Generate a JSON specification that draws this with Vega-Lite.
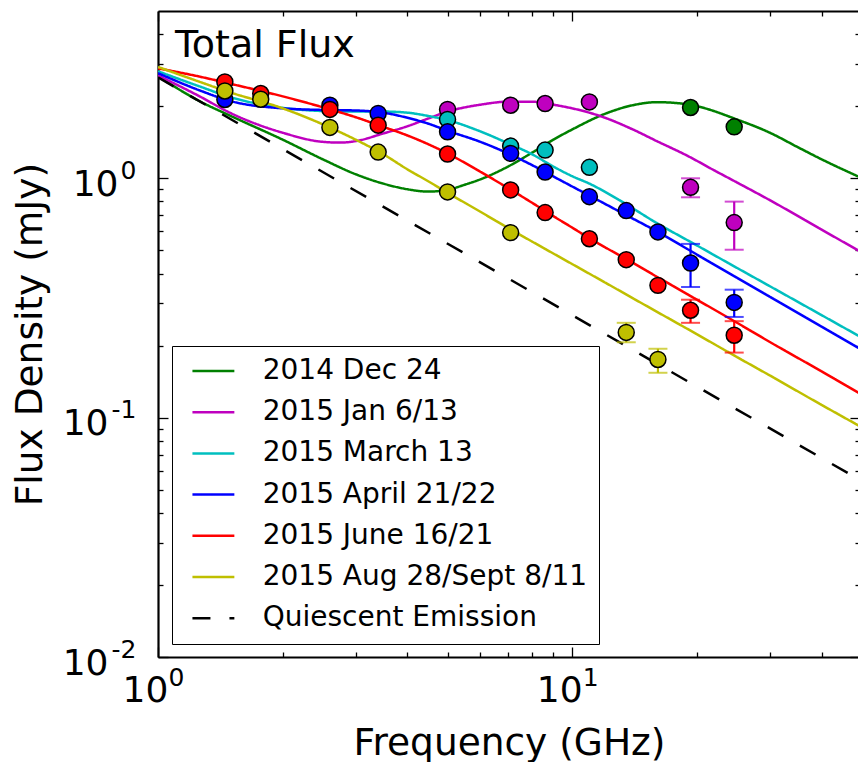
{
  "$schema": "https://vega.github.io/schema/vega-lite/v6.json",
  "width": 702,
  "height": 646,
  "autosize": {"type": "none"},
  "padding": {"left": 158, "top": 11, "right": 0, "bottom": 105},
  "background": "white",
  "title": {"text": "Total Flux", "anchor": "start", "frame": "group", "offset": 0, "dx": 17, "dy": 85, "baseline": "alphabetic", "fontSize": 38, "fontWeight": "normal", "font": "DejaVu Sans", "color": "black"},
  "datasets": {
    "curves": [
      {"series": "2014 Dec 24", "f": 1, "s": 2.67}, {"series": "2014 Dec 24", "f": 1.26, "s": 2.1}, {"series": "2014 Dec 24", "f": 1.5, "s": 1.82}, {"series": "2014 Dec 24", "f": 2, "s": 1.45}, {"series": "2014 Dec 24", "f": 2.5, "s": 1.2}, {"series": "2014 Dec 24", "f": 3, "s": 1.04}, {"series": "2014 Dec 24", "f": 3.5, "s": 0.95}, {"series": "2014 Dec 24", "f": 4, "s": 0.9}, {"series": "2014 Dec 24", "f": 4.5, "s": 0.88}, {"series": "2014 Dec 24", "f": 5, "s": 0.895}, {"series": "2014 Dec 24", "f": 5.5, "s": 0.94}, {"series": "2014 Dec 24", "f": 6, "s": 0.99}, {"series": "2014 Dec 24", "f": 7, "s": 1.12}, {"series": "2014 Dec 24", "f": 8, "s": 1.28}, {"series": "2014 Dec 24", "f": 9, "s": 1.45}, {"series": "2014 Dec 24", "f": 10, "s": 1.6}, {"series": "2014 Dec 24", "f": 12, "s": 1.86}, {"series": "2014 Dec 24", "f": 14, "s": 2.02}, {"series": "2014 Dec 24", "f": 16, "s": 2.08}, {"series": "2014 Dec 24", "f": 18, "s": 2.06}, {"series": "2014 Dec 24", "f": 20, "s": 2.0}, {"series": "2014 Dec 24", "f": 25, "s": 1.76}, {"series": "2014 Dec 24", "f": 30, "s": 1.55}, {"series": "2014 Dec 24", "f": 35, "s": 1.35}, {"series": "2014 Dec 24", "f": 40, "s": 1.2}, {"series": "2014 Dec 24", "f": 49.5, "s": 1.01},
      {"series": "2015 Jan 6/13", "f": 1, "s": 2.69}, {"series": "2015 Jan 6/13", "f": 1.26, "s": 2.2}, {"series": "2015 Jan 6/13", "f": 1.5, "s": 1.87}, {"series": "2015 Jan 6/13", "f": 2, "s": 1.55}, {"series": "2015 Jan 6/13", "f": 2.5, "s": 1.42}, {"series": "2015 Jan 6/13", "f": 2.75, "s": 1.41}, {"series": "2015 Jan 6/13", "f": 3, "s": 1.43}, {"series": "2015 Jan 6/13", "f": 3.5, "s": 1.54}, {"series": "2015 Jan 6/13", "f": 4, "s": 1.65}, {"series": "2015 Jan 6/13", "f": 4.5, "s": 1.78}, {"series": "2015 Jan 6/13", "f": 5, "s": 1.9}, {"series": "2015 Jan 6/13", "f": 6, "s": 2.03}, {"series": "2015 Jan 6/13", "f": 7, "s": 2.09}, {"series": "2015 Jan 6/13", "f": 8, "s": 2.09}, {"series": "2015 Jan 6/13", "f": 9, "s": 2.03}, {"series": "2015 Jan 6/13", "f": 10, "s": 1.96}, {"series": "2015 Jan 6/13", "f": 11, "s": 1.88}, {"series": "2015 Jan 6/13", "f": 12, "s": 1.79}, {"series": "2015 Jan 6/13", "f": 14, "s": 1.6}, {"series": "2015 Jan 6/13", "f": 16, "s": 1.43}, {"series": "2015 Jan 6/13", "f": 19, "s": 1.24}, {"series": "2015 Jan 6/13", "f": 22, "s": 1.08}, {"series": "2015 Jan 6/13", "f": 25, "s": 0.96}, {"series": "2015 Jan 6/13", "f": 30, "s": 0.81}, {"series": "2015 Jan 6/13", "f": 40, "s": 0.61}, {"series": "2015 Jan 6/13", "f": 49.5, "s": 0.495},
      {"series": "2015 March 13", "f": 1, "s": 2.8}, {"series": "2015 March 13", "f": 1.26, "s": 2.42}, {"series": "2015 March 13", "f": 1.5, "s": 2.18}, {"series": "2015 March 13", "f": 2, "s": 1.97}, {"series": "2015 March 13", "f": 2.5, "s": 1.91}, {"series": "2015 March 13", "f": 3, "s": 1.9}, {"series": "2015 March 13", "f": 3.5, "s": 1.9}, {"series": "2015 March 13", "f": 4, "s": 1.88}, {"series": "2015 March 13", "f": 4.5, "s": 1.82}, {"series": "2015 March 13", "f": 5, "s": 1.75}, {"series": "2015 March 13", "f": 6, "s": 1.57}, {"series": "2015 March 13", "f": 7, "s": 1.4}, {"series": "2015 March 13", "f": 8, "s": 1.26}, {"series": "2015 March 13", "f": 9, "s": 1.12}, {"series": "2015 March 13", "f": 10, "s": 1.02}, {"series": "2015 March 13", "f": 11, "s": 0.95}, {"series": "2015 March 13", "f": 13, "s": 0.81}, {"series": "2015 March 13", "f": 16, "s": 0.65}, {"series": "2015 March 13", "f": 20, "s": 0.524}, {"series": "2015 March 13", "f": 25, "s": 0.422}, {"series": "2015 March 13", "f": 30, "s": 0.354}, {"series": "2015 March 13", "f": 40, "s": 0.268}, {"series": "2015 March 13", "f": 49.5, "s": 0.218},
      {"series": "2015 April 21/22", "f": 1, "s": 2.75}, {"series": "2015 April 21/22", "f": 1.26, "s": 2.33}, {"series": "2015 April 21/22", "f": 1.5, "s": 2.1}, {"series": "2015 April 21/22", "f": 2, "s": 1.96}, {"series": "2015 April 21/22", "f": 2.5, "s": 1.93}, {"series": "2015 April 21/22", "f": 3, "s": 1.92}, {"series": "2015 April 21/22", "f": 3.5, "s": 1.88}, {"series": "2015 April 21/22", "f": 4, "s": 1.79}, {"series": "2015 April 21/22", "f": 4.5, "s": 1.69}, {"series": "2015 April 21/22", "f": 5, "s": 1.58}, {"series": "2015 April 21/22", "f": 6, "s": 1.42}, {"series": "2015 April 21/22", "f": 7, "s": 1.27}, {"series": "2015 April 21/22", "f": 8, "s": 1.135}, {"series": "2015 April 21/22", "f": 9, "s": 1.018}, {"series": "2015 April 21/22", "f": 10, "s": 0.924}, {"series": "2015 April 21/22", "f": 11, "s": 0.847}, {"series": "2015 April 21/22", "f": 13, "s": 0.726}, {"series": "2015 April 21/22", "f": 16, "s": 0.6}, {"series": "2015 April 21/22", "f": 20, "s": 0.48}, {"series": "2015 April 21/22", "f": 25, "s": 0.384}, {"series": "2015 April 21/22", "f": 30, "s": 0.32}, {"series": "2015 April 21/22", "f": 40, "s": 0.24}, {"series": "2015 April 21/22", "f": 49.5, "s": 0.194},
      {"series": "2015 June 16/21", "f": 1, "s": 2.88}, {"series": "2015 June 16/21", "f": 1.26, "s": 2.66}, {"series": "2015 June 16/21", "f": 1.5, "s": 2.48}, {"series": "2015 June 16/21", "f": 2, "s": 2.2}, {"series": "2015 June 16/21", "f": 2.5, "s": 1.98}, {"series": "2015 June 16/21", "f": 3, "s": 1.8}, {"series": "2015 June 16/21", "f": 3.5, "s": 1.64}, {"series": "2015 June 16/21", "f": 4, "s": 1.51}, {"series": "2015 June 16/21", "f": 5, "s": 1.27}, {"series": "2015 June 16/21", "f": 6, "s": 1.065}, {"series": "2015 June 16/21", "f": 7, "s": 0.91}, {"series": "2015 June 16/21", "f": 8, "s": 0.79}, {"series": "2015 June 16/21", "f": 9, "s": 0.695}, {"series": "2015 June 16/21", "f": 10, "s": 0.622}, {"series": "2015 June 16/21", "f": 11, "s": 0.562}, {"series": "2015 June 16/21", "f": 12, "s": 0.515}, {"series": "2015 June 16/21", "f": 13.5, "s": 0.46}, {"series": "2015 June 16/21", "f": 16, "s": 0.388}, {"series": "2015 June 16/21", "f": 20, "s": 0.311}, {"series": "2015 June 16/21", "f": 25, "s": 0.249}, {"series": "2015 June 16/21", "f": 30, "s": 0.207}, {"series": "2015 June 16/21", "f": 40, "s": 0.156}, {"series": "2015 June 16/21", "f": 49.5, "s": 0.126},
      {"series": "2015 Aug 28/Sept 8/11", "f": 1, "s": 2.92}, {"series": "2015 Aug 28/Sept 8/11", "f": 1.26, "s": 2.53}, {"series": "2015 Aug 28/Sept 8/11", "f": 1.5, "s": 2.28}, {"series": "2015 Aug 28/Sept 8/11", "f": 2, "s": 1.96}, {"series": "2015 Aug 28/Sept 8/11", "f": 2.5, "s": 1.68}, {"series": "2015 Aug 28/Sept 8/11", "f": 3, "s": 1.45}, {"series": "2015 Aug 28/Sept 8/11", "f": 3.5, "s": 1.26}, {"series": "2015 Aug 28/Sept 8/11", "f": 4, "s": 1.09}, {"series": "2015 Aug 28/Sept 8/11", "f": 4.5, "s": 0.97}, {"series": "2015 Aug 28/Sept 8/11", "f": 5, "s": 0.87}, {"series": "2015 Aug 28/Sept 8/11", "f": 6, "s": 0.725}, {"series": "2015 Aug 28/Sept 8/11", "f": 7, "s": 0.62}, {"series": "2015 Aug 28/Sept 8/11", "f": 8, "s": 0.544}, {"series": "2015 Aug 28/Sept 8/11", "f": 10, "s": 0.438}, {"series": "2015 Aug 28/Sept 8/11", "f": 12, "s": 0.367}, {"series": "2015 Aug 28/Sept 8/11", "f": 15, "s": 0.295}, {"series": "2015 Aug 28/Sept 8/11", "f": 20, "s": 0.223}, {"series": "2015 Aug 28/Sept 8/11", "f": 25, "s": 0.179}, {"series": "2015 Aug 28/Sept 8/11", "f": 30, "s": 0.15}, {"series": "2015 Aug 28/Sept 8/11", "f": 40, "s": 0.113}, {"series": "2015 Aug 28/Sept 8/11", "f": 49.5, "s": 0.092},
      {"series": "Quiescent Emission", "f": 1, "s": 2.64}, {"series": "Quiescent Emission", "f": 10, "s": 0.268}, {"series": "Quiescent Emission", "f": 49.5, "s": 0.0549}
    ],
    "points": [
      {"series": "2014 Dec 24", "f": 19.3, "s": 1.976}, {"series": "2014 Dec 24", "f": 24.6, "s": 1.641},
      {"series": "2015 Jan 6/13", "f": 5.0, "s": 1.939}, {"series": "2015 Jan 6/13", "f": 7.1, "s": 2.02}, {"series": "2015 Jan 6/13", "f": 8.6, "s": 2.053}, {"series": "2015 Jan 6/13", "f": 11.0, "s": 2.085}, {"series": "2015 Jan 6/13", "f": 19.3, "s": 0.917, "lo": 0.833, "hi": 1.0}, {"series": "2015 Jan 6/13", "f": 24.6, "s": 0.653, "lo": 0.503, "hi": 0.799},
      {"series": "2015 March 13", "f": 5.0, "s": 1.762}, {"series": "2015 March 13", "f": 7.1, "s": 1.363}, {"series": "2015 March 13", "f": 8.6, "s": 1.312}, {"series": "2015 March 13", "f": 11.0, "s": 1.111},
      {"series": "2015 April 21/22", "f": 1.45, "s": 2.134}, {"series": "2015 April 21/22", "f": 2.6, "s": 2.02}, {"series": "2015 April 21/22", "f": 3.4, "s": 1.866}, {"series": "2015 April 21/22", "f": 5.0, "s": 1.564}, {"series": "2015 April 21/22", "f": 7.1, "s": 1.271}, {"series": "2015 April 21/22", "f": 8.6, "s": 1.062}, {"series": "2015 April 21/22", "f": 11.0, "s": 0.838}, {"series": "2015 April 21/22", "f": 13.5, "s": 0.733}, {"series": "2015 April 21/22", "f": 16.1, "s": 0.597}, {"series": "2015 April 21/22", "f": 19.3, "s": 0.4425, "lo": 0.3515, "hi": 0.532}, {"series": "2015 April 21/22", "f": 24.6, "s": 0.303, "lo": 0.2635, "hi": 0.3425},
      {"series": "2015 June 16/21", "f": 1.45, "s": 2.526}, {"series": "2015 June 16/21", "f": 1.77, "s": 2.26}, {"series": "2015 June 16/21", "f": 2.6, "s": 1.94}, {"series": "2015 June 16/21", "f": 3.4, "s": 1.667}, {"series": "2015 June 16/21", "f": 5.0, "s": 1.263}, {"series": "2015 June 16/21", "f": 7.1, "s": 0.894}, {"series": "2015 June 16/21", "f": 8.6, "s": 0.719}, {"series": "2015 June 16/21", "f": 11.0, "s": 0.559}, {"series": "2015 June 16/21", "f": 13.5, "s": 0.457}, {"series": "2015 June 16/21", "f": 16.1, "s": 0.357}, {"series": "2015 June 16/21", "f": 19.3, "s": 0.281, "lo": 0.249, "hi": 0.311}, {"series": "2015 June 16/21", "f": 24.6, "s": 0.221, "lo": 0.187, "hi": 0.253},
      {"series": "2015 Aug 28/Sept 8/11", "f": 1.45, "s": 2.317}, {"series": "2015 Aug 28/Sept 8/11", "f": 1.77, "s": 2.14}, {"series": "2015 Aug 28/Sept 8/11", "f": 2.6, "s": 1.631}, {"series": "2015 Aug 28/Sept 8/11", "f": 3.4, "s": 1.287}, {"series": "2015 Aug 28/Sept 8/11", "f": 5.0, "s": 0.877}, {"series": "2015 Aug 28/Sept 8/11", "f": 7.1, "s": 0.593}, {"series": "2015 Aug 28/Sept 8/11", "f": 13.5, "s": 0.227, "lo": 0.2065, "hi": 0.249}, {"series": "2015 Aug 28/Sept 8/11", "f": 16.1, "s": 0.175, "lo": 0.154, "hi": 0.194}
    ]
  },
  "layer": [
    {
      "data": {"name": "curves"},
      "mark": {"type": "line", "strokeWidth": 2.5, "clip": true, "interpolate": "monotone"},
      "encoding": {
        "x": {"field": "f", "type": "quantitative", "scale": {"type": "log", "domain": [1, 49.5], "nice": false},
          "axis": {"orient": "bottom", "values": [1, 10], "ticks": false, "tickSize": 0, "domain": false, "labelExpr": "'10'", "labelFontSize": 36, "labelOffset": -13, "labelPadding": 16, "labelFlush": false, "labelOverlap": false, "labelColor": "black", "labelFont": "DejaVu Sans", "title": "Frequency (GHz)", "titleFontSize": 37.5, "titleFont": "DejaVu Sans", "titleFontWeight": "normal", "titleColor": "black", "titleY": 67, "titleBaseline": "top"}},
        "y": {"field": "s", "type": "quantitative", "scale": {"type": "log", "domain": [0.01, 5], "nice": false},
          "axis": {"orient": "left", "values": [0.01, 0.1, 1], "ticks": false, "tickSize": 0, "domain": false, "labelExpr": "'10'", "labelFontSize": 36, "labelAlign": "right", "labelBaseline": "middle", "labelPadding": {"condition": {"test": "datum.value == 1", "value": 40}, "value": 50}, "labelOffset": 6, "labelOverlap": false, "labelFlush": false, "labelColor": "black", "labelFont": "DejaVu Sans", "title": "Flux Density (mJy)", "titleFontSize": 37.5, "titleFont": "DejaVu Sans", "titleFontWeight": "normal", "titleColor": "black", "titleX": -117, "titleY": 323, "titleAngle": 270, "titleAlign": "center", "titleBaseline": "alphabetic"}},
        "color": {"field": "series", "type": "nominal",
          "scale": {"domain": ["2014 Dec 24", "2015 Jan 6/13", "2015 March 13", "2015 April 21/22", "2015 June 16/21", "2015 Aug 28/Sept 8/11", "Quiescent Emission"], "range": ["#008000", "#bf00bf", "#00bfbf", "#0000ff", "#ff0000", "#bfbf00", "#000000"]},
          "legend": {"title": null, "orient": "none", "legendX": 14, "legendY": 335}},
        "strokeDash": {"field": "series", "type": "nominal",
          "scale": {"domain": ["2014 Dec 24", "2015 Jan 6/13", "2015 March 13", "2015 April 21/22", "2015 June 16/21", "2015 Aug 28/Sept 8/11", "Quiescent Emission"], "range": [[1, 0], [1, 0], [1, 0], [1, 0], [1, 0], [1, 0], [18, 19]]},
          "legend": {"title": null, "orient": "none", "legendX": 14, "legendY": 335}}
      }
    },
    {
      "data": {"name": "points"},
      "transform": [{"filter": "isValid(datum.lo)"}],
      "mark": {"type": "rule", "strokeWidth": 2.2},
      "encoding": {
        "x": {"field": "f", "type": "quantitative", "scale": {"type": "log", "domain": [1, 49.5], "nice": false},
          "axis": {"orient": "bottom", "values": [1, 10], "ticks": false, "tickSize": 0, "domain": false, "labelExpr": "datum.value == 1 ? '0' : '1'", "labelFontSize": 25, "labelOffset": 18, "labelPadding": 8, "labelFlush": false, "labelOverlap": false, "labelColor": "black", "labelFont": "DejaVu Sans", "title": null}},
        "y": {"field": "lo", "type": "quantitative", "scale": {"type": "log", "domain": [0.01, 5], "nice": false},
          "axis": {"orient": "left", "values": [0.01, 0.1, 1], "ticks": false, "tickSize": 0, "domain": false, "labelExpr": "datum.value == 1 ? '0' : datum.value == 0.1 ? '-1' : '-2'", "labelFontSize": 25, "labelAlign": "right", "labelBaseline": "middle", "labelPadding": 22, "labelOffset": -8, "labelOverlap": false, "labelFlush": false, "labelColor": "black", "labelFont": "DejaVu Sans", "title": null}},
        "y2": {"field": "hi"},
        "color": {"field": "series", "type": "nominal", "legend": null}
      }
    },
    {
      "data": {"name": "points"},
      "transform": [{"filter": "isValid(datum.lo)"}],
      "mark": {"type": "tick", "orient": "horizontal", "size": 19, "thickness": 2},
      "encoding": {
        "x": {"field": "f", "type": "quantitative", "scale": {"type": "log", "domain": [1, 49.5], "nice": false},
          "axis": {"orient": "bottom", "values": [1, 2, 3, 4, 5, 6, 7, 8, 9, 10, 20, 30, 40], "labels": false, "ticks": true, "tickSize": {"condition": {"test": "datum.value == 1 || datum.value == 10", "value": -10}, "value": -5}, "tickWidth": 1.3, "tickColor": "black", "domain": true, "domainColor": "black", "domainWidth": 2.2, "title": null}},
        "y": {"field": "lo", "type": "quantitative", "scale": {"type": "log", "domain": [0.01, 5], "nice": false},
          "axis": {"orient": "left", "values": [0.01, 0.02, 0.03, 0.04, 0.05, 0.06, 0.07, 0.08, 0.09, 0.1, 0.2, 0.3, 0.4, 0.5, 0.6, 0.7, 0.8, 0.9, 1, 2, 3, 4], "labels": false, "ticks": true, "tickSize": {"condition": {"test": "datum.value == 1 || datum.value == 0.1 || datum.value == 0.01", "value": -10}, "value": -5}, "tickWidth": 1.3, "tickColor": "black", "domain": true, "domainColor": "black", "domainWidth": 2.2, "title": null}},
        "color": {"field": "series", "type": "nominal", "legend": null}
      }
    },
    {
      "data": {"name": "points"},
      "transform": [{"filter": "isValid(datum.hi)"}],
      "mark": {"type": "tick", "orient": "horizontal", "size": 19, "thickness": 2},
      "encoding": {
        "x": {"field": "f", "type": "quantitative", "scale": {"type": "log", "domain": [1, 49.5], "nice": false}, "axis": null},
        "y": {"field": "hi", "type": "quantitative", "scale": {"type": "log", "domain": [0.01, 5], "nice": false}, "axis": null},
        "color": {"field": "series", "type": "nominal", "legend": null}
      }
    },
    {
      "data": {"name": "points"},
      "mark": {"type": "point", "filled": true, "shape": "circle", "size": 255, "stroke": "black", "strokeWidth": 1.5, "opacity": 1},
      "encoding": {
        "x": {"field": "f", "type": "quantitative", "scale": {"type": "log", "domain": [1, 49.5], "nice": false},
          "axis": {"orient": "top", "values": [1, 2, 3, 4, 5, 6, 7, 8, 9, 10, 20, 30, 40], "labels": false, "ticks": true, "tickSize": {"condition": {"test": "datum.value == 1 || datum.value == 10", "value": -10}, "value": -5}, "tickWidth": 1.3, "tickColor": "black", "domain": true, "domainColor": "black", "domainWidth": 2.2, "title": null}},
        "y": {"field": "s", "type": "quantitative", "scale": {"type": "log", "domain": [0.01, 5], "nice": false},
          "axis": {"orient": "right", "values": [0.01, 0.02, 0.03, 0.04, 0.05, 0.06, 0.07, 0.08, 0.09, 0.1, 0.2, 0.3, 0.4, 0.5, 0.6, 0.7, 0.8, 0.9, 1, 2, 3, 4], "labels": false, "ticks": true, "tickSize": {"condition": {"test": "datum.value == 1 || datum.value == 0.1 || datum.value == 0.01", "value": -10}, "value": -5}, "tickWidth": 1.3, "tickColor": "black", "domain": true, "domainColor": "black", "domainWidth": 2.2, "title": null}},
        "color": {"field": "series", "type": "nominal", "legend": null}
      }
    }
  ],
  "resolve": {"axis": {"x": "independent", "y": "independent"}},
  "config": {
    "font": "DejaVu Sans",
    "view": {"stroke": null},
    "axis": {"grid": false},
    "legend": {
      "symbolType": "M-1.95,0H1.95", "symbolSize": 462, "symbolStrokeWidth": 2.5, "symbolOpacity": 1, "symbolOffset": 16.4,
      "labelFontSize": 28, "labelFont": "DejaVu Sans", "labelColor": "black", "labelOffset": 35.3, "labelLimit": 0,
      "rowPadding": 13.2, "padding": 11, "strokeColor": "black", "fillColor": "white", "cornerRadius": 0
    }
  }
}
